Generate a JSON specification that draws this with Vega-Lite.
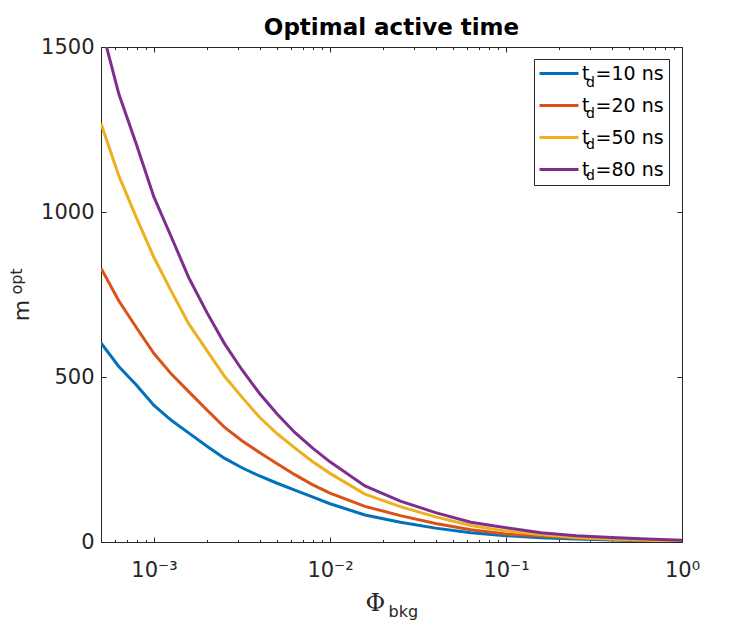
{
  "$schema": "https://vega.github.io/schema/vega-lite/v6.json",
  "width": 581,
  "height": 495,
  "autosize": {"type": "none"},
  "padding": {"left": 101, "top": 47, "right": 73, "bottom": 80},
  "background": "white",
  "config": {
    "font": "DejaVu Sans",
    "view": {"stroke": null},
    "axis": {"grid": false, "domainColor": "#262626", "tickColor": "#262626", "labelColor": "#262626", "titleColor": "#262626", "labelFont": "DejaVu Sans", "titleFont": "DejaVu Sans", "titleFontWeight": "normal", "domainWidth": 1, "tickWidth": 1}
  },
  "title": {"text": "Optimal active time", "fontSize": 23, "fontWeight": "bold", "font": "DejaVu Sans", "color": "#000000", "anchor": "middle", "frame": "group", "baseline": "alphabetic", "offset": -22},
  "datasets": {
    "curves": [
      {"phi": 0.0005, "m": 603, "td": 10}, {"phi": 0.000631, "m": 532, "td": 10}, {"phi": 0.000794, "m": 476, "td": 10}, {"phi": 0.001, "m": 414, "td": 10}, {"phi": 0.00126, "m": 368, "td": 10}, {"phi": 0.00158, "m": 330, "td": 10}, {"phi": 0.002, "m": 290, "td": 10}, {"phi": 0.00251, "m": 254, "td": 10}, {"phi": 0.00316, "m": 225, "td": 10}, {"phi": 0.00398, "m": 200, "td": 10}, {"phi": 0.00501, "m": 178, "td": 10}, {"phi": 0.00631, "m": 157, "td": 10}, {"phi": 0.00794, "m": 137, "td": 10}, {"phi": 0.01, "m": 116, "td": 10}, {"phi": 0.0158, "m": 82, "td": 10}, {"phi": 0.0251, "m": 60, "td": 10}, {"phi": 0.0398, "m": 42, "td": 10}, {"phi": 0.0631, "m": 28, "td": 10}, {"phi": 0.1, "m": 19, "td": 10}, {"phi": 0.158, "m": 13, "td": 10}, {"phi": 0.251, "m": 9, "td": 10}, {"phi": 0.398, "m": 6, "td": 10}, {"phi": 0.631, "m": 4, "td": 10}, {"phi": 1, "m": 2, "td": 10},
      {"phi": 0.0005, "m": 830, "td": 20}, {"phi": 0.000631, "m": 731, "td": 20}, {"phi": 0.000794, "m": 650, "td": 20}, {"phi": 0.001, "m": 571, "td": 20}, {"phi": 0.00126, "m": 508, "td": 20}, {"phi": 0.00158, "m": 455, "td": 20}, {"phi": 0.002, "m": 400, "td": 20}, {"phi": 0.00251, "m": 348, "td": 20}, {"phi": 0.00316, "m": 307, "td": 20}, {"phi": 0.00398, "m": 271, "td": 20}, {"phi": 0.00501, "m": 237, "td": 20}, {"phi": 0.00631, "m": 204, "td": 20}, {"phi": 0.00794, "m": 174, "td": 20}, {"phi": 0.01, "m": 148, "td": 20}, {"phi": 0.0158, "m": 108, "td": 20}, {"phi": 0.0251, "m": 80, "td": 20}, {"phi": 0.0398, "m": 56, "td": 20}, {"phi": 0.0631, "m": 37, "td": 20}, {"phi": 0.1, "m": 24, "td": 20}, {"phi": 0.158, "m": 18, "td": 20}, {"phi": 0.251, "m": 12, "td": 20}, {"phi": 0.398, "m": 8, "td": 20}, {"phi": 0.631, "m": 5, "td": 20}, {"phi": 1, "m": 3, "td": 20},
      {"phi": 0.0005, "m": 1268, "td": 50}, {"phi": 0.000631, "m": 1110, "td": 50}, {"phi": 0.000794, "m": 983, "td": 50}, {"phi": 0.001, "m": 862, "td": 50}, {"phi": 0.00126, "m": 758, "td": 50}, {"phi": 0.00158, "m": 660, "td": 50}, {"phi": 0.002, "m": 580, "td": 50}, {"phi": 0.00251, "m": 503, "td": 50}, {"phi": 0.00316, "m": 439, "td": 50}, {"phi": 0.00398, "m": 378, "td": 50}, {"phi": 0.00501, "m": 328, "td": 50}, {"phi": 0.00631, "m": 285, "td": 50}, {"phi": 0.00794, "m": 244, "td": 50}, {"phi": 0.01, "m": 208, "td": 50}, {"phi": 0.0158, "m": 145, "td": 50}, {"phi": 0.0251, "m": 107, "td": 50}, {"phi": 0.0398, "m": 76, "td": 50}, {"phi": 0.0631, "m": 50, "td": 50}, {"phi": 0.1, "m": 33, "td": 50}, {"phi": 0.158, "m": 23, "td": 50}, {"phi": 0.251, "m": 14, "td": 50}, {"phi": 0.398, "m": 9, "td": 50}, {"phi": 0.631, "m": 5, "td": 50}, {"phi": 1, "m": 2, "td": 50},
      {"phi": 0.0005, "m": 1565, "td": 80}, {"phi": 0.000631, "m": 1358, "td": 80}, {"phi": 0.000794, "m": 1205, "td": 80}, {"phi": 0.001, "m": 1045, "td": 80}, {"phi": 0.00126, "m": 922, "td": 80}, {"phi": 0.00158, "m": 800, "td": 80}, {"phi": 0.002, "m": 695, "td": 80}, {"phi": 0.00251, "m": 602, "td": 80}, {"phi": 0.00316, "m": 522, "td": 80}, {"phi": 0.00398, "m": 450, "td": 80}, {"phi": 0.00501, "m": 388, "td": 80}, {"phi": 0.00631, "m": 332, "td": 80}, {"phi": 0.00794, "m": 285, "td": 80}, {"phi": 0.01, "m": 243, "td": 80}, {"phi": 0.0158, "m": 170, "td": 80}, {"phi": 0.0251, "m": 124, "td": 80}, {"phi": 0.0398, "m": 89, "td": 80}, {"phi": 0.0631, "m": 60, "td": 80}, {"phi": 0.1, "m": 43, "td": 80}, {"phi": 0.158, "m": 28, "td": 80}, {"phi": 0.251, "m": 19, "td": 80}, {"phi": 0.398, "m": 14, "td": 80}, {"phi": 0.631, "m": 9, "td": 80}, {"phi": 1, "m": 5, "td": 80}
    ]
  },
  "data": {"name": "curves"},
  "layer": [
    {
      "mark": {"type": "line", "strokeWidth": 3, "clip": true},
      "encoding": {
        "x": {"field": "phi", "type": "quantitative", "scale": {"type": "log", "domain": [0.0005, 1], "nice": false},
          "axis": {"orient": "bottom", "values": [0.001, 0.01, 0.1, 1], "labelExpr": "'10' + (datum.value == 1 ? '⁰' : datum.value == 0.1 ? '⁻¹' : datum.value == 0.01 ? '⁻²' : '⁻³')", "labelFontSize": 21, "tickSize": -5, "labelPadding": 22, "labelFlush": false, "labelOverlap": false,
            "title": "Φ", "titleFont": "DejaVu Serif", "titleFontSize": 24, "titleX": 264, "titleY": 68, "titleAlign": "left", "titleBaseline": "alphabetic", "titleAnchor": null}},
        "y": {"field": "m", "type": "quantitative", "scale": {"domain": [0, 1500], "nice": false},
          "axis": {"orient": "left", "values": [0, 500, 1000, 1500], "format": "d", "labelFontSize": 21, "tickSize": -5, "labelPadding": 12, "labelFlush": false, "labelOverlap": false,
            "title": "m", "titleFontSize": 22, "titleX": -73, "titleY": 263, "titleAlign": "center", "titleBaseline": "alphabetic", "titleAngle": 270}},
        "color": {"field": "td", "type": "nominal", "scale": {"domain": [10, 20, 50, 80], "range": ["#0072BD", "#D95319", "#EDB120", "#7E2F8E"]},
          "legend": {"orient": "none", "legendX": 433, "legendY": 12, "title": null, "symbolType": "M-1.286,0H4.286", "symbolSize": 196, "symbolStrokeWidth": 3, "labelFontSize": 19, "labelFont": "DejaVu Sans", "labelColor": "#000000", "labelOffset": 24, "padding": 5, "rowPadding": 12, "strokeColor": "#262626", "fillColor": "#ffffff", "labelLimit": 0, "labelExpr": "'t\u00a0=' + datum.label + ' ns'"}}
      }
    },
    {
      "transform": [{"filter": "datum.m <= 1500"}],
      "mark": {"type": "point", "opacity": 0, "clip": true},
      "encoding": {
        "x": {"field": "phi", "type": "quantitative", "axis": {"orient": "top", "values": [0.001, 0.01, 0.1, 1], "labels": false, "tickSize": -5, "title": null}},
        "y": {"field": "m", "type": "quantitative", "axis": {"orient": "right", "values": [0, 500, 1000, 1500], "labels": false, "tickSize": -5, "title": null}}
      }
    },
    {
      "transform": [{"filter": "datum.m <= 1500"}],
      "mark": {"type": "point", "opacity": 0, "clip": true},
      "encoding": {
        "x": {"field": "phi", "type": "quantitative", "axis": {"orient": "bottom", "values": [0.0005, 0.0006, 0.0007, 0.0008, 0.0009, 0.002, 0.003, 0.004, 0.005, 0.006, 0.007, 0.008, 0.009, 0.02, 0.03, 0.04, 0.05, 0.06, 0.07, 0.08, 0.09, 0.2, 0.3, 0.4, 0.5, 0.6, 0.7, 0.8, 0.9], "labels": false, "domain": false, "tickSize": -2.5, "title": null}},
        "y": {"field": "m", "type": "quantitative", "axis": null}
      }
    },
    {
      "transform": [{"filter": "datum.m <= 1500"}],
      "mark": {"type": "point", "opacity": 0, "clip": true},
      "encoding": {
        "x": {"field": "phi", "type": "quantitative", "axis": {"orient": "top", "values": [0.0005, 0.0006, 0.0007, 0.0008, 0.0009, 0.002, 0.003, 0.004, 0.005, 0.006, 0.007, 0.008, 0.009, 0.02, 0.03, 0.04, 0.05, 0.06, 0.07, 0.08, 0.09, 0.2, 0.3, 0.4, 0.5, 0.6, 0.7, 0.8, 0.9], "labels": false, "domain": false, "tickSize": -2.5, "title": null}},
        "y": {"field": "m", "type": "quantitative", "axis": null}
      }
    },
    {
      "transform": [{"filter": "datum.m <= 1500"}],
      "mark": {"type": "point", "opacity": 0, "clip": true},
      "encoding": {
        "x": {"field": "phi", "type": "quantitative", "axis": {"orient": "bottom", "labels": false, "domain": false, "ticks": false, "title": "bkg", "titleFontSize": 16, "titleX": 287, "titleY": 74, "titleAlign": "left", "titleBaseline": "alphabetic", "titleAnchor": null}},
        "y": {"field": "m", "type": "quantitative", "axis": {"orient": "left", "labels": false, "domain": false, "ticks": false, "title": "opt", "titleFontSize": 16, "titleX": -80, "titleY": 234, "titleAlign": "center", "titleBaseline": "alphabetic", "titleAngle": 270, "titleAnchor": null}},
        "shape": {"field": "td", "type": "nominal", "scale": {"domain": ["10", "20", "50", "80"]},
          "legend": {"orient": "none", "legendX": 471, "legendY": 29, "title": null, "symbolSize": 0, "symbolOpacity": 0, "labelFontSize": 14, "labelFont": "DejaVu Sans", "labelColor": "#000000", "labelOffset": 0, "padding": 0, "rowPadding": 17, "labelExpr": "'d'"}}
      }
    }
  ],
  "resolve": {"axis": {"x": "independent", "y": "independent"}}
}
